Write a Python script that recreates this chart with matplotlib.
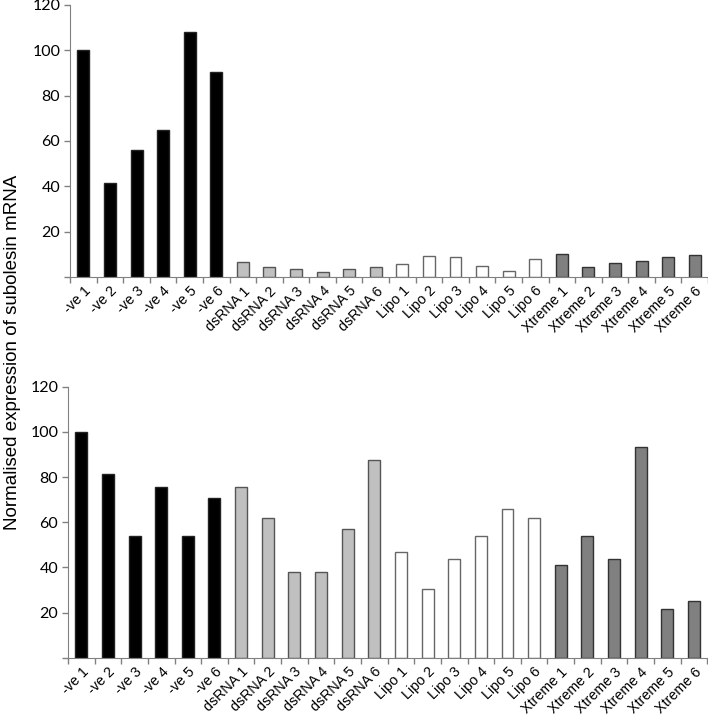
import matplotlib
matplotlib.use("Agg")
import matplotlib.pyplot as plt
import numpy as np

# Categorias y valores
grupos = ['-ve', 'dsRNA', 'Lipo', 'Xtreme']
etiquetas = [f"{g} {i}" for g in grupos for i in range(1, 7)]

valores_arriba = [100, 41.5, 56, 65, 108, 90.5,
                  6.5, 4.3, 3.5, 2.4, 3.5, 4.3,
                  5.7, 9.3, 8.8, 4.7, 2.8, 7.8,
                  10.3, 4.6, 6.0, 7.2, 8.8, 9.6]
valores_abajo = [100, 81.3, 54, 75.7, 54, 70.6,
                 75.7, 61.7, 38, 38, 57.1, 87.4,
                 46.7, 30.6, 43.6, 54, 66, 61.7,
                 40.9, 54, 43.6, 93.2, 21.7, 25.1]

# Estilo por grupo: relleno y borde
relleno = {'-ve': 'black', 'dsRNA': '#c0c0c0', 'Lipo': 'white', 'Xtreme': '#808080'}
borde = {'-ve': '#222222', 'dsRNA': '#555555', 'Lipo': '#666666', 'Xtreme': '#333333'}

colores = [relleno[e.split()[0]] for e in etiquetas]
bordes = [borde[e.split()[0]] for e in etiquetas]

fig = plt.figure(figsize=(7.08, 7.17), dpi=100)
ax1 = fig.add_axes([0.099, 0.6137, 0.901, 0.3794])
ax2 = fig.add_axes([0.096, 0.0827, 0.903, 0.378])

x = np.arange(len(etiquetas))
gris = '#808080'

for ax, vals in [(ax1, valores_arriba), (ax2, valores_abajo)]:
    ax.bar(x, vals, width=0.45, color=colores, edgecolor=bordes, linewidth=1.0)
    ax.set_xlim(-0.5, len(etiquetas) - 0.5)
    ax.set_ylim(0, 120)
    ax.set_yticks([20, 40, 60, 80, 100, 120])
    ax.set_yticks([0], minor=True)
    for lab in ax.get_yticklabels():
        lab.set_fontfamily('Lato')
        lab.set_fontsize(11.5)
    ax.set_xticks(x)
    ax.set_xticklabels(etiquetas, rotation=45, ha='right', rotation_mode='anchor',
                       fontsize=10.3, fontfamily='Liberation Sans')
    ax.set_xticks(np.arange(-0.5, len(etiquetas)), minor=True)
    ax.tick_params(axis='x', which='major', length=0, pad=5)
    ax.tick_params(axis='x', which='minor', length=4, color=gris, width=1)
    ax.tick_params(axis='y', which='both', length=4, color=gris, width=1, pad=3)
    ax.spines['top'].set_visible(False)
    ax.spines['right'].set_visible(False)
    ax.spines['left'].set_color(gris)
    ax.spines['bottom'].set_color(gris)

fig.text(0.017, 0.509, 'Normalised expression of subolesin mRNA', rotation=90,
         ha='center', va='center', fontsize=13.5, fontfamily='Liberation Sans')

plt.savefig('out.png', dpi=100)
